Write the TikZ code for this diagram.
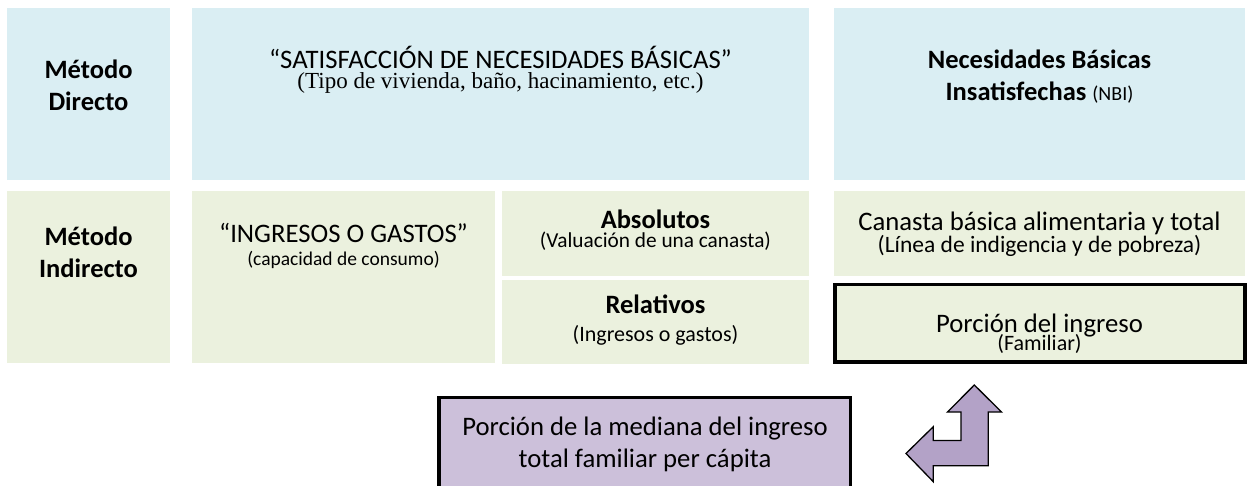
\documentclass[tikz,border=0pt]{standalone}
\usepackage{fontspec}
\setmainfont{Carlito}
\newfontfamily\serifnote{Liberation Serif}
\usepackage{tikz}
\usetikzlibrary{positioning}
\definecolor{nbiblue}{HTML}{DAEEF3}
\definecolor{ingreen}{HTML}{EBF1DE}
\definecolor{medlila}{HTML}{CCC0DA}
\definecolor{arrlila}{HTML}{B3A2C7}

\begin{document}
\begin{tikzpicture}[x=1pt, y=-1pt,
    cell/.style={rectangle, inner sep=0pt, outer sep=0pt},
    dirbox/.style={cell, fill=nbiblue},
    indbox/.style={cell, fill=ingreen},
    keybox/.style={cell, draw=black, line width=3.5pt},
    head/.style={font=\bfseries\fontsize{26.5}{32}\selectfont, align=center, anchor=base},
    plain/.style={font=\fontsize{26.7}{32}\selectfont, align=center, anchor=base},
    note/.style={font=\fontsize{#1}{24}\selectfont, anchor=base},
    note/.default=21]
  \useasboundingbox (0,0) rectangle (1247,485);

  \node[dirbox, minimum width=163, minimum height=172] (dir) at (88.5,94) {};
  \node[dirbox, minimum width=617, minimum height=172] (sat) at (500.5,94) {};
  \node[dirbox, minimum width=411, minimum height=172] (nbi) at (1039.5,94) {};
  \node[indbox, minimum width=163, minimum height=172] (ind) at (88.5,277) {};
  \node[indbox, minimum width=303, minimum height=172] (ing) at (343.5,277) {};
  \node[indbox, minimum width=307, minimum height=85] (abs) at (655.5,233.5) {};
  \node[indbox, minimum width=307, minimum height=84] (rel) at (655.5,322) {};
  \node[indbox, minimum width=411, minimum height=85] (can) at (1039.5,233.5) {};
  \node[keybox, fill=ingreen, minimum width=410, minimum height=77.7] (por) at (1039.75,323.15) {};
  \node[keybox, fill=medlila, line width=3.3pt, minimum width=411.8, minimum height=122.8] (med) at (644.9,458.6) {};

  \node[head] (dirT) at (88.5,110) {Método\\Directo};
  \node[plain] (satT) at (500.5,68) {“SATISFACCIÓN DE NECESIDADES BÁSICAS”};
  \node[note, font=\serifnote\fontsize{23}{24}\selectfont, yshift=-20] (satS) at (satT.base) {(Tipo de vivienda, baño, hacinamiento, etc.)};
  \node[head] (nbiT) at (1039.5,100) {Necesidades Básicas\\Insatisfechas {\mdseries\fontsize{20}{24}\selectfont (NBI)}};

  \node[head] (indT) at (88.5,277) {Método\\Indirecto};
  \node[plain] (ingT) at (343.5,242) {“INGRESOS O GASTOS”};
  \node[note=19.5, yshift=-23] (ingS) at (ingT.base) {(capacidad de consumo)};
  \node[head] (absT) at (655.5,228) {Absolutos};
  \node[note=21.3, yshift=-19] (absS) at (absT.base) {(Valuación de una canasta)};
  \node[head] (relT) at (655.5,313) {Relativos};
  \node[note=22, yshift=-28] (relS) at (relT.base) {(Ingresos o gastos)};
  \node[plain] (canT) at (1039.5,230) {Canasta básica alimentaria y total};
  \node[note=23.5, yshift=-22] (canS) at (canT.base) {(Línea de indigencia y de pobreza)};
  \node[plain] (porT) at (1039.5,332) {Porción del ingreso};
  \node[note=22, yshift=-18] (porS) at (porT.base) {(Familiar)};
  \node[plain] (medT) at (645,467) {Porción de la mediana del ingreso\\total familiar per cápita};

  \draw[fill=arrlila, line width=1.3pt] (974.3,385) -- (1001.5,412) -- (988.3,412) -- (988.3,465.7) -- (933.3,465.7) -- (933.3,481.7) -- (906,453.5) -- (933.3,426.7) -- (933.3,440.5) -- (961,440.5) -- (961,412) -- (947.5,412) -- cycle;
\end{tikzpicture}
\end{document}
